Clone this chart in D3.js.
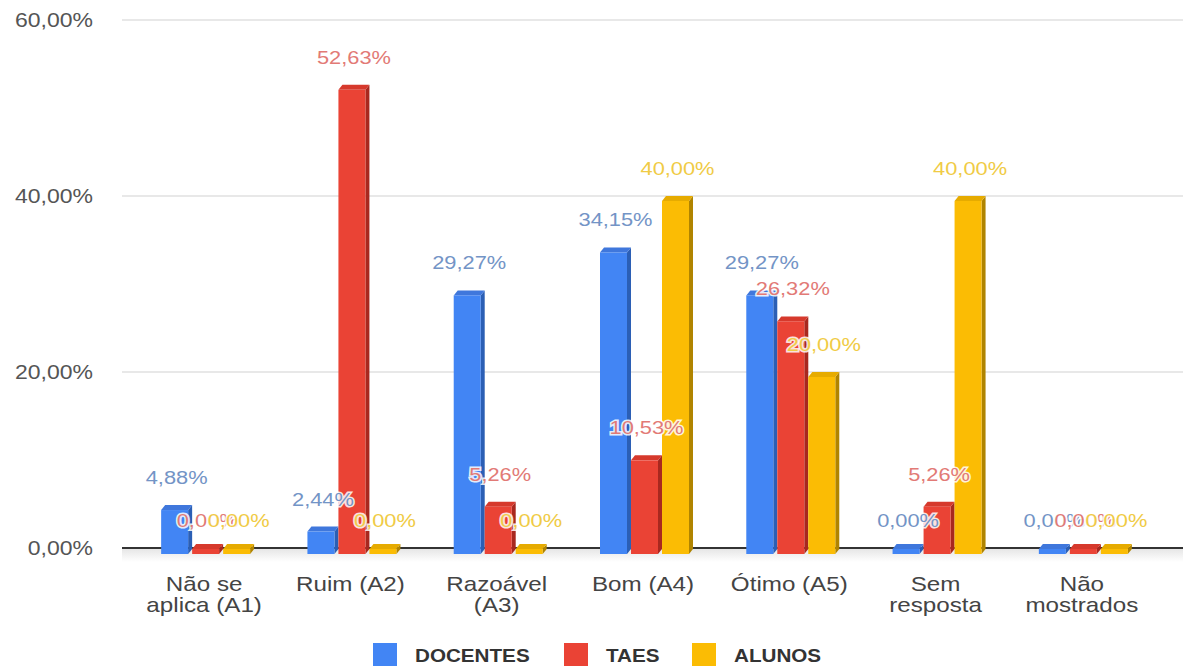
<!DOCTYPE html>
<html>
<head>
<meta charset="utf-8">
<script src="https://cdn.jsdelivr.net/npm/d3@7"></script>
<style>
  body { margin: 0; background: #fff; }
  svg text { font-family: Arial, "Liberation Sans", sans-serif; }
</style>
</head>
<body>
<div id="chart"></div>
<script>
const categories = [
  ["Não se", "aplica (A1)"],
  ["Ruim (A2)"],
  ["Razoável", "(A3)"],
  ["Bom (A4)"],
  ["Ótimo (A5)"],
  ["Sem", "resposta"],
  ["Não", "mostrados"]
];
const seriesNames = ["DOCENTES", "TAES", "ALUNOS"];
const docentes = [4.88, 2.44, 29.27, 34.15, 29.27, 0, 0];
const taes = [0, 52.63, 5.26, 10.53, 26.32, 5.26, 0];
const alunos = [0, 0, 0, 40, 20, 40, 0];
const yTicks = [0, 20, 40, 60];

const seriesValues = [docentes, taes, alunos];
const colors = ["#4285f4", "#ea4335", "#fbbc04"];
const sideColors = ["#2b5fb5", "#a8281f", "#b08400"];
const topColors = ["#3f77dc", "#d6392c", "#e6ab00"];
const labelColors = ["#7394c6", "#e27a76", "#f0cb45"];

const W = 1183, H = 669;
const SX = 1.18; // horizontal stretch of the text in the reference

const svg = d3.select("#chart").append("svg")
  .attr("width", W).attr("height", H);

const x = d3.scaleBand()
  .domain(d3.range(categories.length))
  .range([135, 1159]);

const xInner = d3.scaleBand()
  .domain(d3.range(seriesNames.length))
  .range([0, 93]);

const y = d3.scaleLinear().domain([0, 60]).range([548, 20]);

const fmt = v => v.toFixed(2).replace(".", ",") + "%";

function stext(parent, tx, ty, str, size, anchor, fill) {
  return parent.append("text")
    .attr("transform", `translate(${tx},${ty}) scale(${SX},1)`)
    .attr("text-anchor", anchor)
    .attr("fill", fill)
    .style("font-size", size + "px")
    .text(str);
}

// Grid
svg.append("g")
  .selectAll("line")
  .data(yTicks.filter(t => t > 0))
  .join("line")
  .attr("x1", 122).attr("x2", W)
  .attr("y1", d => y(d)).attr("y2", d => y(d))
  .attr("stroke", "#e0e0e0").attr("stroke-width", 1.5);

// Y labels
const yl = svg.append("g");
yTicks.forEach(t => stext(yl, 93, y(t) + 7, fmt(t), 19.5, "end", "#555"));

// floor shading
const defs = svg.append("defs");
const grad = defs.append("linearGradient")
  .attr("id", "floor").attr("x1", 0).attr("x2", 0).attr("y1", 0).attr("y2", 1);
grad.append("stop").attr("offset", "0%").attr("stop-color", "#e4e4e4");
grad.append("stop").attr("offset", "100%").attr("stop-color", "#ffffff");
svg.append("rect")
  .attr("x", 122).attr("y", y(0))
  .attr("width", W - 122).attr("height", 14)
  .attr("fill", "url(#floor)");

// Zero line
svg.append("line")
  .attr("x1", 122).attr("x2", W)
  .attr("y1", y(0)).attr("y2", y(0))
  .attr("stroke", "#333").attr("stroke-width", 2);

// Bars (3D look)
const dx = 4, dy = 5, base = y(0) + 6, bw = 27;
const groupLeft = i => x(i) + x.bandwidth() / 2 - 47;
const bars = [];
seriesValues.forEach((vals, s) => {
  vals.forEach((v, i) => bars.push({ s, i, v }));
});

const barsG = svg.append("g");
bars.forEach(b => {
  const x0 = groupLeft(b.i) + xInner(b.s);
  const top = Math.min(y(b.v) + dy, base - 5);
  const g = barsG.append("g");
  g.append("path")
    .attr("d", `M${x0 + bw},${top} L${x0 + bw + dx},${top - dy} L${x0 + bw + dx},${base - dy} L${x0 + bw},${base} Z`)
    .attr("fill", sideColors[b.s]);
  g.append("path")
    .attr("d", `M${x0},${top} L${x0 + dx},${top - dy} L${x0 + bw + dx},${top - dy} L${x0 + bw},${top} Z`)
    .attr("fill", topColors[b.s]);
  g.append("rect")
    .attr("x", x0).attr("y", top)
    .attr("width", bw).attr("height", base - top)
    .attr("fill", colors[b.s]);
});

// Data labels
const labelsG = svg.append("g");
bars.forEach(b => {
  const cx = groupLeft(b.i) + xInner(b.s) + (bw + dx) / 2;
  stext(labelsG, cx, y(b.v) - 21, fmt(b.v), 18.5, "middle", labelColors[b.s])
    .attr("stroke", "#fff")
    .attr("stroke-width", 3)
    .attr("stroke-opacity", 0.85)
    .attr("paint-order", "stroke");
});

// X labels
const xl = svg.append("g");
categories.forEach((lines, i) => {
  const cx = x(i) + x.bandwidth() / 2 - 4;
  const t = stext(xl, cx, 591, null, 20.5, "middle", "#444");
  lines.forEach((ln, k) => {
    t.append("tspan")
      .attr("x", 0)
      .attr("dy", k === 0 ? 0 : 21)
      .text(ln);
  });
});

// Legend
const legendSq = [373, 564, 692];
const legend = svg.append("g");
seriesNames.forEach((name, s) => {
  legend.append("rect")
    .attr("x", legendSq[s]).attr("y", 643)
    .attr("width", 24).attr("height", 23)
    .attr("fill", colors[s]);
  stext(legend, legendSq[s] + 42, 662, name, 17.5, "start", "#333")
    .style("font-weight", "bold");
});
</script>
</body>
</html>
